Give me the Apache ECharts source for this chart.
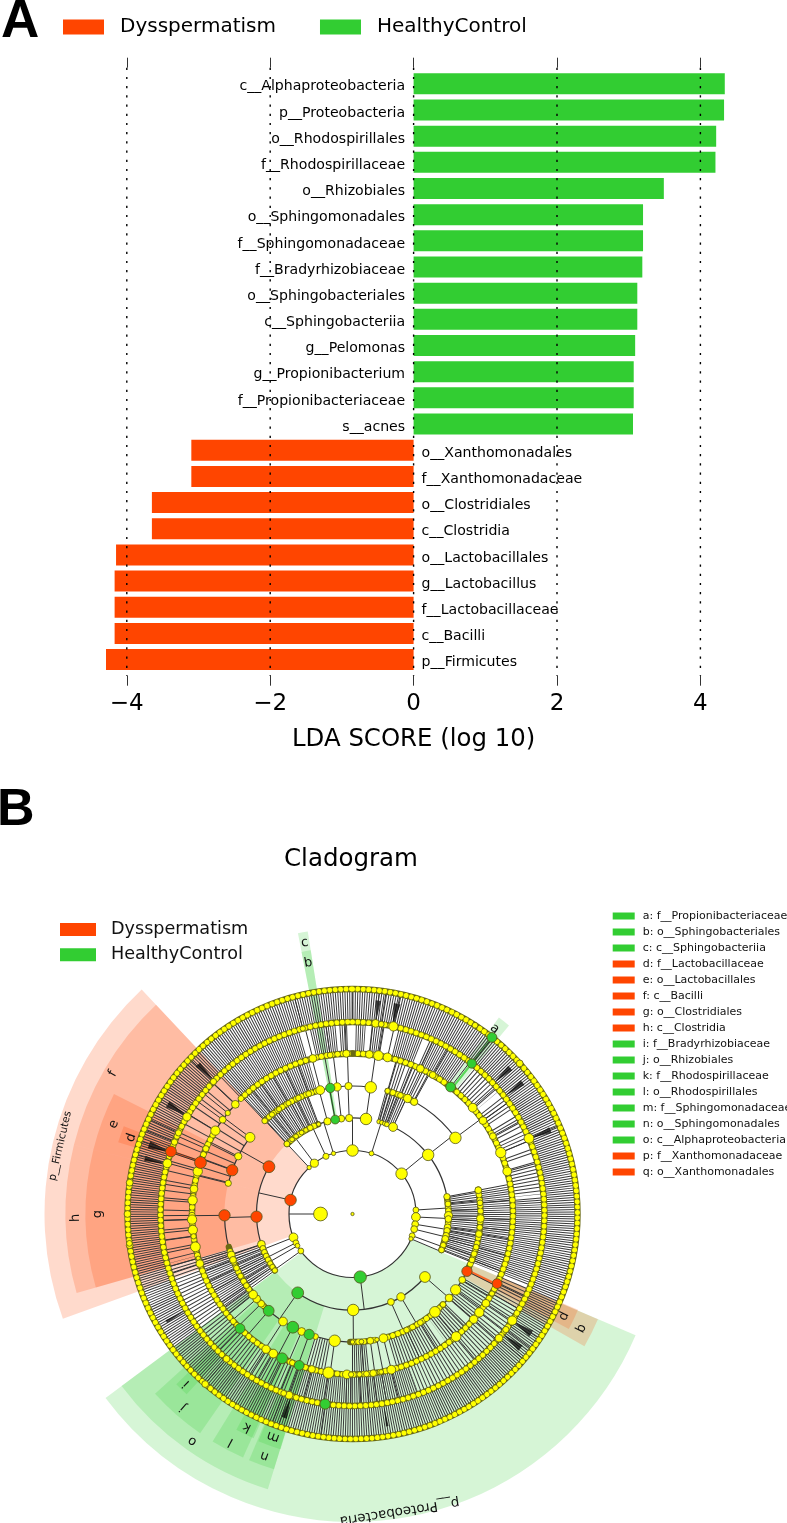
<!DOCTYPE html>
<html>
<head>
<meta charset="utf-8">
<style>html,body{margin:0;padding:0;background:#fff}#c{width:787px;height:1523px}</style>
<script src="https://cdn.jsdelivr.net/npm/echarts@6/dist/echarts.min.js"></script>
</head>
<body>
<div id="c"></div>
<script>
// ---------- LDA bars ----------
const barCategories = ['c__Alphaproteobacteria','p__Proteobacteria','o__Rhodospirillales','f__Rhodospirillaceae','o__Rhizobiales','o__Sphingomonadales','f__Sphingomonadaceae','f__Bradyrhizobiaceae','o__Sphingobacteriales','c__Sphingobacteriia','g__Pelomonas','g__Propionibacterium','f__Propionibacteriaceae','s__acnes','o__Xanthomonadales','f__Xanthomonadaceae','o__Clostridiales','c__Clostridia','o__Lactobacillales','g__Lactobacillus','f__Lactobacillaceae','c__Bacilli','p__Firmicutes'];
const healthyValues = [4.34,4.33,4.22,4.21,3.49,3.2,3.2,3.19,3.12,3.12,3.09,3.07,3.07,3.06,'-','-','-','-','-','-','-','-','-'];
const dyspermValues = ['-','-','-','-','-','-','-','-','-','-','-','-','-','-',-3.10,-3.10,-3.65,-3.65,-4.15,-4.17,-4.17,-4.17,-4.29];
const xTicks = [-4,-2,0,2,4];
const groups = ['Dysspermatism','HealthyControl'];

// ---------- cladogram key ----------
const keyItems = ['a: f__Propionibacteriaceae','b: o__Sphingobacteriales','c: c__Sphingobacteriia','d: f__Lactobacillaceae','e: o__Lactobacillales','f: c__Bacilli','g: o__Clostridiales','h: c__Clostridia','i: f__Bradyrhizobiaceae','j: o__Rhizobiales','k: f__Rhodospirillaceae','l: o__Rhodospirillales','m: f__Sphingomonadaceae','n: o__Sphingomonadales','o: c__Alphaproteobacteria','p: f__Xanthomonadaceae','q: o__Xanthomonadales'];
const keyGroups = 'GGGRRRRRGGGGGGGRR';

// ---------- cladogram: clade shades [angle from, angle to, r from, r to, group]
const cladeShades = [
 [250.1,316.8,63.5,308,'R'],[283.9,316.8,96,287,'R'],[254,283.9,96,287,'R'],[254,284,128,267,'R'],[284,296.7,128,267,'R'],[287,291,192,245,'R'],
 [113.2,233.3,63.5,308,'G'],[197.1,233.3,96,288,'G'],[214.8,227.7,128,267,'G'],[204.2,211.6,128,267,'G'],[197.1,202.8,128,267,'G'],[222.6,226,160,245,'G'],[203.8,208.3,160,245,'G'],[197,202.5,160,246,'G'],
 [113.2,119.7,128,267,'R'],[113,118,160,245,'R'],[36.7,39.7,160,245,'G'],[349,351,96,286,'G'],[349,351,128,267,'G']
];
const cladeStrips = [[288.6,289.4,160,192,'R'],[349.2,350.2,96,128,'G'],[38,38.7,160,224,'G'],[115.6,116.6,128,160,'R']];

// rings of the tree
const ringArcs = [[63.5,0,360],[96,234,300],[96,131,215],[96,317,339],[96,339,368],[96,16,80],[96,80,112],[128,231,269],[128,284,307],[128,317,345],[128,345,368],[128,16,53.5],[128,79,116.6],[128,117,232],[160.5,0,360],[192,0,360],[225,0,360]];
// hatched bands of terminal branches [r from, r to, angle from, angle to]
const edgeBandsDense = [
 [192,225,0,360],
 [160.5,192,316,344],[160.5,192,347,355],[160.5,192,356,358.5],[160.5,192,1,4],[160.5,192,6,10],[160.5,192,14,22],[160.5,192,24,37],[160.5,192,85,112],[160.5,192,160,200],
 [128,160.5,317,344],[128,160.5,80,112],[128,160.5,174,180],[128,160.5,231,254],
 [96,128,317,339],[96,128,15,25],[96,128,80,112],[96,128,235,252]
];
const edgeBandsOpen = [
 [160.5,192,40,50],[160.5,192,52,57],[160.5,192,59,63],[160.5,192,64,68],[160.5,192,70,72],[160.5,192,74,84],[160.5,192,113,128],[160.5,192,129,160],[160.5,192,201,255],
 [128,160.5,16,20],[128,160.5,21,25],[128,160.5,26,29],[128,160.5,120,132],[128,160.5,134,144],[128,160.5,146,164],[128,160.5,190,196]
];
const edgeBandsSparse = [[160.5,192,256,316],[128,160.5,284,307]];
const darkWedges = [[67,1.6],[47.2,1.6],[52.3,1.6],[6.9,1.4],[12,1.8],[314,1.6],[300.7,1.8],[288.8,2],[285,1.4],[123.8,1.8],[128.6,1.8],[198.6,1.6],[170.7,.7],[240,.8]];
// bead chains of tiny taxa [r, angle from, angle to]
const beadChains = [[96,234,252],[96,317,339],[96,80,112],[128,231,255],[128,317,345],[128,16,29],[128,79,116],[128,135,166],[128,170,181],[128,222,232],[160.5,0,300],[160.5,316,360],[192,0,360],[225,0,360]];

// nodes per ring: [angle, diameter]
const ring0Nodes = [[0,2.5]];
const ring32Nodes = [[270,13]];
const ring64Nodes = [[360,10.7],[335.3,5.3],[342.6,3.5],[17.4,4],[50.6,10.7],[323.1,7.3],[317,3.5],[86.4,5],[92.7,8],[99.3,6],[103.8,6],[110,5],[113,3.5],[248.4,8],[243,5],[240,4],[234.4,5]];
const ring96Nodes = [[251.6,7],[249,5],[246.5,5],[244,5],[241.5,5],[239,4.5],[236.5,4.5],[234,4.5],[316.9,5],[321,4],[324,4],[328,4],[331,4],[333.9,5],[339.3,3.5],[344.9,6.5],[353.3,6],[358,6.5],[8.1,10.7],[16,3.5],[17.7,3.5],[19.7,4],[21,4],[25,8],[52,10.7],[79.6,5.5],[84,5],[88,5],[91,7.5],[93,6],[98,6],[100,5.5],[103,5.5],[105,6],[109,5],[112,5],[179.6,10.7],[156.4,6],[149.7,7.5],[131,10]];
const ring128Nodes = [[316.7,5],[321,4.5],[325,4.5],[330,4.5],[335,5],[340,5],[345.4,8],[353.1,7.5],[358.2,6.5],[8.2,10.7],[15.9,4.5],[22,5],[25.5,7.5],[28.8,6.5],[53.5,10.7],[79.3,6],[85,5],[92,7],[96,5],[99,6],[105,5],[111,5],[121,6],[126.3,9.5],[131,7],[135,5],[139.9,10],[148,5],[155,5],[166,8],[169,3.5],[172,6],[176,4],[180,3.5],[188,10.7],[196.8,5],[203.4,7],[212.9,8],[225.5,6],[228.5,7],[231,8],[234,5],[253,5],[251.3,7],[249,6],[245,5],[241,5],[236,5],[283.9,5.5],[296.8,6.5],[306.8,9]];
const ring160Nodes = [[48.5,8],[54.4,7],[61,6],[67.5,9.5],[74.6,8],[345.7,7],[352,5],[357.8,6.5],[6,7],[9.3,9],[12.6,8],[25,7],[30,6],[313.1,7],[309,4.5],[306,6],[301.3,8.5],[294,5.5],[285.4,8.5],[279,7],[274.9,8.5],[269.5,5.5],[268,8.5],[264.3,8.5],[262,4.5],[258.2,9],[254,3.5],[252,7],[209.6,8],[212.6,7.5],[202,5],[194.7,6.5],[188.6,10.5],[182,8],[180.5,4.5],[177.5,4.5],[175,5],[172.6,6],[169.7,4],[166,8],[139.8,9],[131,7.5],[127.8,8.5],[123.8,7],[119.7,4.5]];
const ring192Nodes = [[12.3,8.5],[6.9,7],[8.6,5],[345,4.5],[66.8,9],[300.4,7.5],[313.6,5.5],[295,5.5],[292,5.5],[285.3,8],[123.7,8.5],[127,5.5],[130.3,7],[221,6],[199.3,7],[201,5]];
const ring225Nodes = [[220.9,6],[270,6],[262,6],[278,6],[262.5,5],[33,5],[48,6]];
const redNodes = [[63.5,282.7,10.7],[96,299.5,11],[96,268.4,10.5],[128,290,10.5],[128,269.4,10.5],[160.5,288.7,11],[192,289,10],[128,116.6,9.5],[160.5,115.7,9]];
const greenNodes = [[63.5,173,11.5],[96,214.8,11],[128,220.9,10],[128,207.8,11],[128,199.8,9.5],[160.5,224.5,9],[160.5,206,10],[160.5,199.4,9],[192,188.2,9.5],[96,349.6,8],[128,350,8.5],[160.5,37.7,9],[192,38.4,8.5],[225,38.3,9]];
const cladeLabels = [['p__Firmicutes',300,283.1],['p__Proteobacteria',301,171],['f',277.7,300.3],['e',255,290.6],['d',234,289],['h',277,269.2],['g',255.3,270],['a',233.6,37.5],['b',255,350],['c',275.5,350],['i',237.4,224.4],['j',257,221.2],['o',278,215.2],['l',258.6,208.1],['k',237.6,206.3],['m',236.4,199.6],['n',257.5,200],['q',255.7,116.6],['p',234.6,115.8]];

// ---------- styles ----------
const RED = '#FF4500', GREEN = '#32CD32', FONT = '"DejaVu Sans"';
const colorOf = g => g === 'R' ? RED : GREEN;

const polarGeom = (params, api, r, a) => {
  const cs = params.coordSys, p = api.coord([r, a]);
  return {cx: cs.cx, cy: cs.cy, x: p[0], y: p[1], r: Math.hypot(p[0]-cs.cx, p[1]-cs.cy), ang: Math.atan2(p[1]-cs.cy, p[0]-cs.cx)};
};
const D2R = Math.PI/180;
const spanEnd = (a0, a1) => a1 < a0 ? a1 + 360 : a1;

function sectorSeries(list, alpha, z) {
  return {type:'custom', coordinateSystem:'polar', silent:true, z, clip:false,
    data:list.map(s=>[s[3],s[0]]),
    renderItem(params, api){
      const s = list[params.dataIndex];
      const o = polarGeom(params, api, s[3], s[0]), i = polarGeom(params, api, s[2], s[0]);
      return {type:'sector', shape:{cx:o.cx,cy:o.cy,r:o.r,r0:i.r,startAngle:o.ang,endAngle:o.ang+(spanEnd(s[0],s[1])-s[0])*D2R,clockwise:true},
        style:{fill:colorOf(s[4]),opacity:alpha,stroke:null}};
    }};
}
function hatchSeries(list, periodDeg, color, z) {
  return {type:'custom', coordinateSystem:'polar', silent:true, z,
    data:list.map(b=>[b[1],b[2]]),
    renderItem(params, api){
      const b = list[params.dataIndex];
      const mid = (b[0]+b[1])/2, g = polarGeom(params, api, mid, b[2]);
      const period = Math.max(periodDeg*D2R*g.r, 2.1);
      const w = Math.min(period*.45, 1);
      return {type:'arc', shape:{cx:g.cx,cy:g.cy,r:g.r,startAngle:g.ang,endAngle:g.ang+(spanEnd(b[2],b[3])-b[2])*D2R,clockwise:true},
        style:{fill:'none',stroke:color,lineWidth:b[1]-b[0],lineDash:[w,period-w],lineCap:'butt'}};
    }};
}
const edgeRows = [];
[[ring32Nodes,32,63.5],[ring64Nodes,63.5,96],[ring96Nodes,96,128],[ring128Nodes,128,160.5],[ring160Nodes,160.5,192],[ring192Nodes,192,225]]
  .forEach(([nodes,r0,r1])=>nodes.forEach(n=>edgeRows.push([r0,n[0],r1])));
[...redNodes,...greenNodes].forEach(n=>{ if(n[0]<225){ const nx={63.5:96,96:128,128:160.5,160.5:192,192:225}[n[0]]; edgeRows.push([n[0],n[1],nx]); }});

const yellowRows = [];
[[ring0Nodes,0],[ring32Nodes,32],[ring64Nodes,63.5],[ring96Nodes,96],[ring128Nodes,128],[ring160Nodes,160.5],[ring192Nodes,192],[ring225Nodes,225]]
  .forEach(([nodes,r])=>nodes.forEach(n=>yellowRows.push([r,n[0],n[1]])));

const nodeSeries = (data,color,z)=>({type:'scatter',coordinateSystem:'polar',silent:true,z,data,
  symbolSize:v=>v[2]+.8,itemStyle:{color,opacity:1,borderColor:'#55551a',borderWidth:.8},animation:false,clip:false});

const keySeries = keyItems.map((name,i)=>({type:'custom',name,coordinateSystem:'none',data:[],renderItem(){return null;},itemStyle:{color:colorOf(keyGroups[i])}}));

const option = {
  animation:false,
  backgroundColor:'#fff',
  textStyle:{fontFamily:FONT},
  title:[
    {text:'A',left:1,top:-4,textStyle:{fontFamily:'"Liberation Sans"',fontWeight:'bold',fontSize:53,color:'#000'},padding:0},
    {text:'B',left:-3,top:785,textStyle:{fontFamily:'"Liberation Sans"',fontWeight:'bold',fontSize:52,color:'#000'},padding:0},
    {text:'Cladogram',left:351,top:847,textAlign:'center',textStyle:{fontFamily:FONT,fontWeight:'normal',fontSize:24.5,color:'#000'},padding:0}
  ],
  legend:[
    {left:63,top:17,itemWidth:41,itemHeight:15,itemGap:44,selectedMode:false,icon:'rect',data:[{name:groups[0],itemStyle:{color:RED}},{name:groups[1],itemStyle:{color:GREEN}}],textStyle:{fontFamily:FONT,fontSize:20,color:'#000',padding:[0,0,0,11]},padding:0},
    {left:60,top:920.5,orient:'vertical',itemWidth:36,itemHeight:13,itemGap:7.3,selectedMode:false,icon:'rect',data:[{name:groups[0],itemStyle:{color:RED}},{name:groups[1],itemStyle:{color:GREEN}}],textStyle:{fontFamily:FONT,fontSize:17.6,color:'#111',padding:[0,0,0,10]},padding:0},
    {left:612.7,top:909.5,orient:'vertical',itemWidth:22,itemHeight:7,itemGap:3,selectedMode:false,icon:'rect',data:keyItems.map((n,i)=>({name:n,itemStyle:{color:colorOf(keyGroups[i])}})),textStyle:{fontFamily:FONT,fontSize:11,lineHeight:13,color:'#111',padding:[0,0,0,3]},padding:0}
  ],
  grid:{left:55.1,width:717,top:70.7,height:602,containLabel:false},
  xAxis:[
    {type:'value',min:-5,max:5,position:'bottom',offset:3,axisLine:{show:false},splitLine:{show:false},
      axisTick:{show:true,length:10,customValues:xTicks,lineStyle:{color:'#333',width:1}},
      axisLabel:{customValues:xTicks,fontSize:23,margin:17,color:'#000',fontFamily:FONT,formatter:v=>String(v).replace('-','\u2212')},
      name:'LDA SCORE (log 10)',nameLocation:'middle',nameGap:52,nameTextStyle:{fontSize:24.4,color:'#000',fontFamily:FONT}},
    {type:'value',min:-5,max:5,position:'top',offset:3,axisLine:{show:false},splitLine:{show:false},
      axisTick:{show:true,length:10,customValues:xTicks,lineStyle:{color:'#333',width:1}},axisLabel:{show:false}}
  ],
  yAxis:{type:'category',inverse:true,data:barCategories,show:false},
  polar:{center:[352.5,1214],radius:310},
  radiusAxis:{min:0,max:310,show:false},
  angleAxis:{min:0,max:360,startAngle:90,clockwise:true,show:false},
  series:[
    {type:'bar',name:groups[1],stack:'lda',data:healthyValues,barWidth:21,itemStyle:{color:GREEN},silent:true,z:2,
      label:{show:true,position:'left',distance:8.5,offset:[0,3],formatter:'{b}',fontFamily:FONT,fontSize:14.1,color:'#000'}},
    {type:'bar',name:groups[0],stack:'lda',data:dyspermValues,barWidth:21,itemStyle:{color:RED},silent:true,z:2,
      label:{show:true,position:'right',distance:8,offset:[0,3],formatter:'{b}',fontFamily:FONT,fontSize:14.1,color:'#000'}},
    {type:'custom',coordinateSystem:'cartesian2d',silent:true,z:10,clip:false,data:xTicks.map(v=>[v,0]),
      renderItem(params,api){
        const cs=params.coordSys, x=api.coord([api.value(0),0])[0];
        return {type:'line',shape:{x1:x,y1:cs.y-3,x2:x,y2:cs.y+cs.height+3},style:{stroke:'#000',lineWidth:1.4,lineDash:[2.2,7]}};
      }},
    sectorSeries(cladeShades,.2,2),
    sectorSeries(cladeStrips,.75,3),
    hatchSeries(edgeBandsDense,.62,'#3a3a3a',4),
    hatchSeries(edgeBandsOpen,1.1,'#3a3a3a',4),
    hatchSeries(edgeBandsSparse,3,'#3a3a3a',4),
    {type:'custom',coordinateSystem:'polar',silent:true,z:4,data:darkWedges.map(w=>[205,w[0]]),
      renderItem(params,api){
        const w=darkWedges[params.dataIndex];
        const tip=api.coord([193,w[0]]), a=api.coord([215,w[0]-w[1]/2]), b=api.coord([215,w[0]+w[1]/2]);
        return {type:'polygon',shape:{points:[tip,a,b]},style:{fill:'#000',opacity:.72}};
      }},
    {type:'custom',coordinateSystem:'polar',silent:true,z:5,data:ringArcs.map(a=>[a[0],a[1]]),
      renderItem(params,api){
        const a=ringArcs[params.dataIndex], g=polarGeom(params,api,a[0],a[1]);
        return {type:'arc',shape:{cx:g.cx,cy:g.cy,r:g.r,startAngle:g.ang,endAngle:g.ang+(spanEnd(a[1],a[2])-a[1])*D2R,clockwise:true},style:{fill:'none',stroke:'#333',lineWidth:1.2}};
      }},
    {type:'custom',coordinateSystem:'polar',silent:true,z:5,data:edgeRows.map(e=>[e[0],e[1]]),
      renderItem(params,api){
        const e=edgeRows[params.dataIndex], p=api.coord([e[0],e[1]]), q=api.coord([e[2],e[1]]);
        return {type:'line',shape:{x1:p[0],y1:p[1],x2:q[0],y2:q[1]},style:{stroke:'#333',lineWidth:1}};
      }},
    {type:'custom',coordinateSystem:'polar',silent:true,z:6,data:beadChains.map(b=>[b[0],b[1]]),
      renderItem(params,api){
        const b=beadChains[params.dataIndex], g=polarGeom(params,api,b[0],b[1]);
        const shape={cx:g.cx,cy:g.cy,r:g.r,startAngle:g.ang,endAngle:g.ang+(b[2]-b[1])*D2R,clockwise:true};
        return {type:'group',children:[
          {type:'arc',shape,style:{fill:'none',stroke:'#6a6a14',lineWidth:6.4,lineCap:'round'}},
          {type:'arc',shape,style:{fill:'none',stroke:'#FFFF00',lineWidth:5,lineCap:'round',lineDash:[.01,5.4]}}
        ]};
      }},
    nodeSeries(yellowRows,'#FFFF00',7),
    nodeSeries(redNodes,RED,8),
    nodeSeries(greenNodes,GREEN,8),
    {type:'custom',coordinateSystem:'polar',silent:true,z:9,data:cladeLabels.map(l=>[l[1],l[2]]),
      renderItem(params,api){
        const l=cladeLabels[params.dataIndex], p=api.coord([l[1],l[2]]);
        const size = l[0].length===1 ? 13 : (l[0][3]==='P' ? 13.5 : 10.5);
        return {type:'text',x:p[0],y:p[1],rotation:(360-l[2])*D2R,style:{text:l[0],align:'center',verticalAlign:'middle',fontFamily:FONT,fontSize:size,fill:'#111'}};
      }},
    ...keySeries
  ]
};
const chart = echarts.init(document.getElementById('c'),null,{renderer:'canvas',width:787,height:1523});
chart.setOption(option);
</script>
</body>
</html>
